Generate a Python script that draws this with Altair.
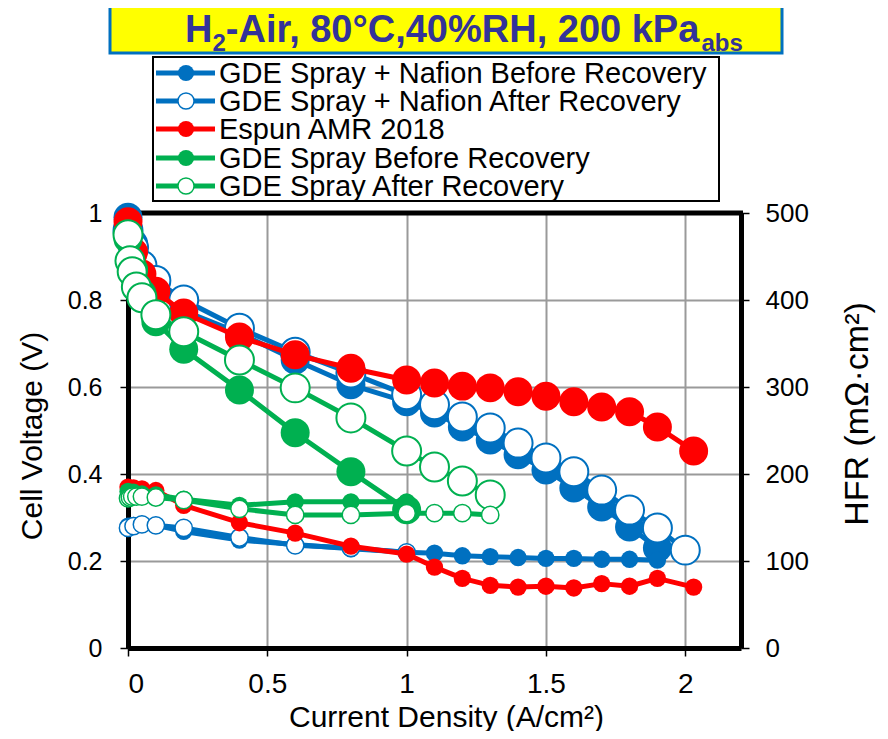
import altair as alt
import pandas as pd

FONT = "Liberation Sans"

# ---------------- data ----------------
names = ["GDE Spray + Nafion Before Recovery", "GDE Spray + Nafion After Recovery",
         "Espun AMR 2018", "GDE Spray Before Recovery", "GDE Spray After Recovery"]
colors = ["#0070C0", "#0070C0", "#FF0000", "#00B050", "#00B050"]
filled = [True, False, True, True, False]

# polarization curves (A/cm2, V)
nb_x = [0, 0.02, 0.05, 0.1, 0.2, 0.4, 0.6, 0.8, 1.0, 1.1, 1.2, 1.3, 1.4, 1.5, 1.6, 1.7, 1.8, 1.9]
nb_v = [0.99, 0.93, 0.88, 0.835, 0.775, 0.724, 0.662, 0.605, 0.566, 0.54, 0.508, 0.478, 0.444, 0.409, 0.368, 0.324, 0.278, 0.23]

na_x = [0, 0.02, 0.05, 0.1, 0.2, 0.4, 0.6, 0.8, 1.0, 1.1, 1.2, 1.3, 1.4, 1.5, 1.6, 1.7, 1.8, 1.9, 2.0]
na_v = [0.96, 0.92, 0.88, 0.845, 0.80, 0.735, 0.68, 0.632, 0.582, 0.559, 0.531, 0.506, 0.471, 0.437, 0.405, 0.363, 0.317, 0.276, 0.225]

es_x = [0, 0.02, 0.05, 0.1, 0.2, 0.4, 0.6, 0.8, 1.0, 1.1, 1.2, 1.3, 1.4, 1.5, 1.6, 1.7, 1.8, 1.9, 2.03]
es_v = [0.98, 0.91, 0.86, 0.82, 0.77, 0.715, 0.674, 0.643, 0.616, 0.609, 0.602, 0.598, 0.589, 0.579, 0.566, 0.554, 0.543, 0.508, 0.453]

gb_x = [0, 0.02, 0.05, 0.1, 0.2, 0.4, 0.6, 0.8, 1.0]
gb_v = [0.94, 0.87, 0.815, 0.75, 0.687, 0.593, 0.495, 0.405, 0.318]

ga_x = [0, 0.007, 0.015, 0.03, 0.05, 0.1, 0.2, 0.4, 0.6, 0.8, 1.0, 1.1, 1.2, 1.3]
ga_v = [0.95, 0.89, 0.865, 0.83, 0.805, 0.766, 0.727, 0.662, 0.598, 0.529, 0.453, 0.416, 0.384, 0.352]

# HFR curves (A/cm2, mOhm cm2)
nb_hx = [0, 0.02, 0.05, 0.1, 0.2, 0.4, 0.6, 0.8, 1.0, 1.1, 1.2, 1.3, 1.4, 1.5, 1.6, 1.7, 1.8, 1.9]
nb_h = [140, 141, 142, 141, 134, 124, 119, 114, 110, 109, 106, 105, 104, 103, 103, 102, 102, 101]

na_hx = [0, 0.02, 0.05, 0.1, 0.2, 0.4, 0.6, 0.8, 1.0]
na_h = [138, 140, 142, 141, 138, 127, 118, 115, 110]

es_hx = [0, 0.02, 0.05, 0.1, 0.2, 0.4, 0.6, 0.8, 1.0, 1.1, 1.2, 1.3, 1.4, 1.5, 1.6, 1.7, 1.8, 1.9, 2.03]
es_h = [185, 184, 183, 181, 164, 144, 132, 117, 108, 93, 80, 72, 70, 71, 69, 74, 71, 80, 70]

gb_hx = [0, 0.02, 0.05, 0.1, 0.2, 0.4, 0.6, 0.8, 1.0]
gb_h = [180, 179, 177, 176, 171, 164, 168, 168, 168]

ga_hx = [0, 0.007, 0.015, 0.03, 0.05, 0.1, 0.2, 0.4, 0.6, 0.8, 1.0, 1.1, 1.2, 1.3]
ga_h = [172, 173, 174, 174, 174, 173, 170, 160, 153, 153, 155, 155, 155, 153]

pol_series = [(nb_x, nb_v), (na_x, na_v), (es_x, es_v), (gb_x, gb_v), (ga_x, ga_v)]
hfr_series = [(nb_hx, nb_h), (na_hx, na_h), (es_hx, es_h), (gb_hx, gb_h), (ga_hx, ga_h)]

y_left_title = "Cell Voltage (V)"
y_right_title = "HFR (mΩ·cm²)"

W, H = 613, 435

# ---------------- scales / axes ----------------
X = alt.X("x:Q", scale=alt.Scale(domain=[0, 2.2], nice=False, zero=False),
          axis=alt.Axis(values=[0, 0.5, 1, 1.5, 2], format=".1~f", grid=True,
                        gridColor="#9A9A9A", gridWidth=2,
                        domainColor="black", domainWidth=5,
                        tickColor="black", tickSize=8, tickWidth=1.5,
                        labelFont=FONT, labelFontSize=28, labelColor="black", labelPadding=14,
                        title="Current Density (A/cm²)", titleFont=FONT, titleFontSize=30,
                        titleFontWeight="normal", titleColor="black",
                        titleX=318, titleY=78, titleBaseline="alphabetic", titleAlign="center"))

YV = alt.Y("v:Q", scale=alt.Scale(domain=[0, 1], nice=False, zero=False),
           axis=alt.Axis(orient="left", values=[0, 0.2, 0.4, 0.6, 0.8, 1], format=".1~f",
                         grid=True, gridColor="#9A9A9A", gridWidth=2,
                         domainColor="black", domainWidth=5,
                         tickColor="black", tickSize=8, tickWidth=1.5,
                         labelFont=FONT, labelFontSize=25, labelColor="black", labelPadding=18,
                         title=""))

YH = alt.Y("h:Q", scale=alt.Scale(domain=[0, 500], nice=False, zero=False),
           axis=alt.Axis(orient="right", values=[0, 100, 200, 300, 400, 500], grid=False,
                         domainColor="black", domainWidth=5,
                         tickColor="black", tickSize=8, tickWidth=1.5,
                         labelFont=FONT, labelFontSize=26, labelColor="black", labelPadding=16,
                         title=""))


def series_layers(xs, ys, col, yenc, color, is_filled, size, lw, sw):
    df = pd.DataFrame({"x": xs, col: ys})
    base = alt.Chart(df)
    line = base.mark_line(color=color, strokeWidth=lw, strokeJoin="round").encode(x=X, y=yenc)
    if is_filled:
        pts = base.mark_circle(color=color, size=size, opacity=1).encode(x=X, y=yenc)
    else:
        pts = base.mark_circle(fill="white", stroke=color, strokeWidth=sw, size=size,
                               opacity=1, fillOpacity=1).encode(x=X, y=yenc)
    return [line, pts]


pol_parts = []
for i, (xs, ys) in enumerate(pol_series):
    pol_parts += series_layers(xs, ys, "v", YV, colors[i], filled[i], 840, 5, 2)

hfr_parts = []
for i, (xs, ys) in enumerate(hfr_series):
    hfr_parts += series_layers(xs, ys, "h", YH, colors[i], filled[i], 300, 5, 1.5)

pol_layer = alt.layer(*pol_parts)
hfr_layer = alt.layer(*hfr_parts)

one = pd.DataFrame({"k": [0]})
top_border = alt.Chart(one).mark_rule(color="black", strokeWidth=5).encode(
    x=alt.value(-2), x2=alt.value(W + 2), y=alt.value(0))

# axis titles drawn as text
axis_titles = [
    alt.Chart(pd.DataFrame({"t": [y_left_title]})).mark_text(
        font=FONT, fontSize=30, angle=270, align="center", baseline="alphabetic", color="black").encode(
        x=alt.value(-86), y=alt.value(223), text="t:N"),
    alt.Chart(pd.DataFrame({"t": [y_right_title]})).mark_text(
        font=FONT, fontSize=34, angle=270, align="center", baseline="alphabetic", color="black").encode(
        x=alt.value(740), y=alt.value(201), text="t:N"),
]

# ---------------- legend (drawn) ----------------
leg_rows = [-140, -112, -84, -55, -27]
legend_parts = [alt.Chart(one).mark_rect(fill="white", stroke="black", strokeWidth=2).encode(
    x=alt.value(25), x2=alt.value(591), y=alt.value(-156), y2=alt.value(-12))]
for i, nm in enumerate(names):
    d = pd.DataFrame({"label": [nm]})
    yy = leg_rows[i]
    legend_parts.append(alt.Chart(d).mark_rule(color=colors[i], strokeWidth=5).encode(
        x=alt.value(28), x2=alt.value(87), y=alt.value(yy)))
    if filled[i]:
        legend_parts.append(alt.Chart(d).mark_circle(color=colors[i], size=260, opacity=1).encode(
            x=alt.value(58), y=alt.value(yy)))
    else:
        legend_parts.append(alt.Chart(d).mark_circle(fill="white", stroke=colors[i], strokeWidth=1.5,
                                                     size=260, opacity=1).encode(
            x=alt.value(58), y=alt.value(yy)))
    legend_parts.append(alt.Chart(d).mark_text(font=FONT, fontSize=29, align="left", baseline="middle",
                                               color="black").encode(
        x=alt.value(91), y=alt.value(yy + 1), text="label:N"))

# ---------------- title (drawn, with subscripts) ----------------
BOLD_W = {'H': 722, '2': 556, '-': 333, 'A': 722, 'i': 278, 'r': 389, ',': 278, ' ': 278,
          '8': 556, '0': 556, '°': 400, 'C': 722, '4': 556, '%': 889, 'R': 722, 'k': 556,
          'P': 667, 'a': 556, 'b': 611, 's': 556}


def tw(s, size):
    return sum(BOLD_W.get(c, 556) for c in s) * size / 1000.0


title_pieces = [("H", 38, False), ("2", 24, True), ("-Air, 80°C,40%RH, 200 kPa", 38, False), ("abs", 24, True)]
title_color = "#333399"
title_parts = [alt.Chart(one).mark_rect(fill="#FFFF00", stroke="#0070C0", strokeWidth=3).encode(
    x=alt.value(-18), x2=alt.value(654), y=alt.value(-208), y2=alt.value(-160))]
cx = 57.0
for txt, fs, sub in title_pieces:
    d = pd.DataFrame({"t": [txt]})
    title_parts.append(alt.Chart(d).mark_text(font=FONT, fontSize=fs, fontWeight="bold", align="left",
                                              baseline="alphabetic", color=title_color).encode(
        x=alt.value(cx), y=alt.value(-162 if sub else -171), text="t:N"))
    cx += tw(txt, fs)

chart = alt.layer(top_border, pol_layer, hfr_layer, *axis_titles, *legend_parts, *title_parts).resolve_scale(
    y="independent"
).properties(
    width=W, height=H,
    autosize=alt.AutoSizeParams(type="none"),
    padding={"left": 120, "top": 205, "right": 136, "bottom": 83},
    background="white",
).configure_view(stroke="transparent")

chart.save("out.html", embed_options={"renderer": "svg", "actions": False})
